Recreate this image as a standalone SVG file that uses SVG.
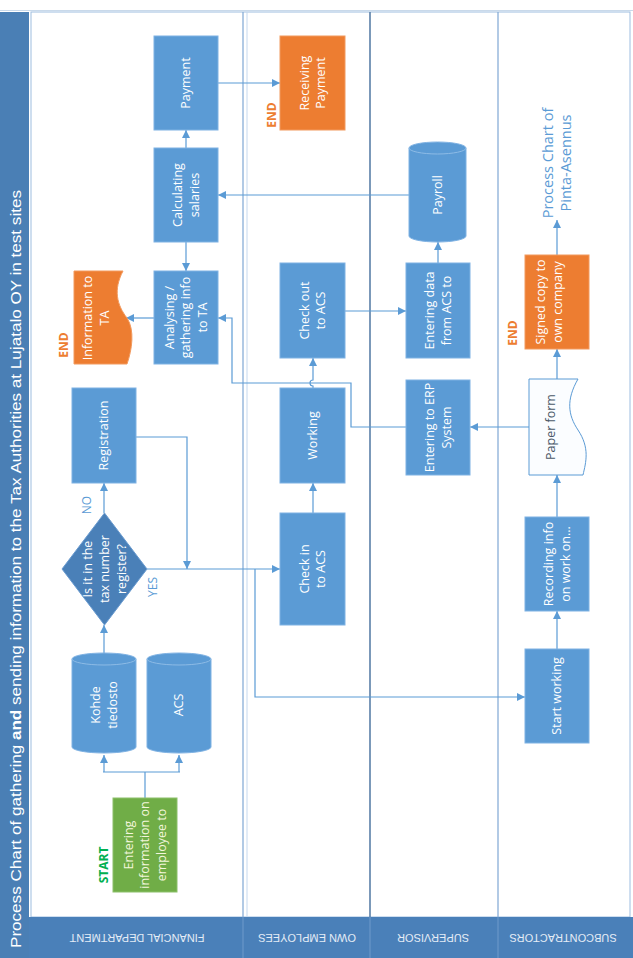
<svg xmlns="http://www.w3.org/2000/svg" width="633" height="958" viewBox="0 0 633 958">
<style>
.box{fill:#5b9bd5;stroke:#7fb2e3;stroke-width:1}
.dia{fill:#4a80b8;stroke:#6a9bd0;stroke-width:1}
.org{fill:#ed7d31;stroke:#f29a5e;stroke-width:1}
.grn{fill:#70ad47;stroke:#8cc06a;stroke-width:1}
.t{font-family:"Open Sans","Liberation Sans",sans-serif;font-size:12.5px;fill:#ffffff;text-anchor:middle}
.c{fill:none;stroke:#5b9bd5;stroke-width:1.2}
.lane{stroke:#7fa7d4;stroke-width:1.2}
.lbl{font-family:"Liberation Sans",sans-serif;font-size:11px;fill:#e4ecf6;text-anchor:middle}
.mark{font-family:"Open Sans","Liberation Sans",sans-serif;font-weight:bold;font-size:12px;text-anchor:middle}
.blue{font-family:"Open Sans","Liberation Sans",sans-serif;font-size:12px;fill:#5b9bd5;text-anchor:middle}
</style>
<defs>
<marker id="ah" markerUnits="userSpaceOnUse" markerWidth="9" markerHeight="8" refX="8" refY="4" orient="auto">
<path d="M0,0 L8,4 L0,8 Z" fill="#5b9bd5"/>
</marker>
</defs>
<rect x="0" y="0" width="633" height="958" fill="#ffffff"/>
<line x1="0" y1="10.5" x2="633" y2="10.5" stroke="#c9d9ea" stroke-width="1"/>
<!-- title strip -->
<rect x="0" y="12" width="29" height="946" fill="#4a7fb5"/>
<g transform="translate(21,948) rotate(-90)">
<text font-family="Liberation Sans, sans-serif" font-size="15" fill="#ffffff" textLength="758" lengthAdjust="spacingAndGlyphs">Process Chart of gathering <tspan font-weight="bold">and</tspan> sending information to the Tax Authorities at Lujatalo OY in test sites</text>
</g>
<!-- lanes -->
<g id="lanes">
<rect x="31" y="12" width="599" height="905" fill="#ffffff" stroke="#9dbde0" stroke-width="1"/>
<line class="lane" x1="243" y1="12" x2="243" y2="958"/>
<line x1="247" y1="12" x2="247" y2="917" stroke="#c5d8ee" stroke-width="1"/>
<line x1="370" y1="12" x2="370" y2="958" stroke="#5a7fa8" stroke-width="1.6"/>
<line class="lane" x1="498" y1="12" x2="498" y2="958"/>
<rect x="29" y="917" width="604" height="41" fill="#4a80b9"/>
<line x1="243" y1="917" x2="243" y2="958" stroke="#6f9acb" stroke-width="1"/>
<line x1="370" y1="917" x2="370" y2="958" stroke="#6f9acb" stroke-width="1"/>
<line x1="498" y1="917" x2="498" y2="958" stroke="#6f9acb" stroke-width="1"/>
<g transform="translate(137,938) rotate(180)"><text class="lbl" x="0" y="4">FINANCIAL DEPARTMENT</text></g>
<g transform="translate(307,938) rotate(180)"><text class="lbl" x="0" y="4">OWN EMPLOYEES</text></g>
<g transform="translate(433,938) rotate(180)"><text class="lbl" x="0" y="4">SUPERVISOR</text></g>
<g transform="translate(563,938) rotate(180)"><text class="lbl" x="0" y="4">SUBCONTRACTORS</text></g>
</g>
<!-- connectors -->
<g id="connectors">
<path class="c" d="M145,798 V772"/>
<path class="c" d="M103,772 H180"/>
<path class="c" d="M104,772 V755" marker-end="url(#ah)"/>
<path class="c" d="M179,772 V755" marker-end="url(#ah)"/>
<path class="c" d="M104,653 V625" marker-end="url(#ah)"/>
<path class="c" d="M104,513 V483" marker-end="url(#ah)"/>
<path class="c" d="M136,437 H187 V569" marker-end="url(#ah)"/>
<path class="c" d="M147,569 H280" marker-end="url(#ah)"/>
<path class="c" d="M255,569 V697 H525" marker-end="url(#ah)"/>
<path class="c" d="M313,513 V483" marker-end="url(#ah)"/>
<path class="c" d="M313,388 V386 A3,3 0 0 1 313,380 V358" marker-end="url(#ah)"/>
<path class="c" d="M345,311 H406" marker-end="url(#ah)"/>
<path class="c" d="M438,263 V242" marker-end="url(#ah)"/>
<path class="c" d="M409,195 H218" marker-end="url(#ah)"/>
<path class="c" d="M186,242 V271" marker-end="url(#ah)"/>
<path class="c" d="M186,148 V130" marker-end="url(#ah)"/>
<path class="c" d="M218,83 H280" marker-end="url(#ah)"/>
<path class="c" d="M154,318 H126" marker-end="url(#ah)"/>
<path class="c" d="M406,427 H351 V383 H232 V318 H218" marker-end="url(#ah)"/>
<path class="c" d="M529,427 H470" marker-end="url(#ah)"/>
<path class="c" d="M557,649 V611" marker-end="url(#ah)"/>
<path class="c" d="M557,517 V475" marker-end="url(#ah)"/>
<path class="c" d="M557,379 V349" marker-end="url(#ah)"/>
<path class="c" d="M557,255 V220" marker-end="url(#ah)"/>
</g>
<!-- nodes -->
<g id="start">
<rect class="grn" x="113" y="798" width="64" height="94"/>
<g transform="translate(145,845) rotate(-90)"><text class="t" style="fill:#f3f6dc"><tspan x="0" y="-12.5">Entering</tspan><tspan x="0" y="4.4">information on</tspan><tspan x="0" y="21.3">employee to</tspan></text></g>
<g transform="translate(103,865) rotate(-90)"><text class="mark" fill="#00b050" x="0" y="4.5">START</text></g>
</g>
<g id="kohde">
<path class="box" d="M72,659 A32,6 0 0 1 136,659 V747 A32,6 0 0 1 72,747 Z"/>
<path d="M72,659 A32,6 0 0 0 136,659" fill="none" stroke="#8dbbe6" stroke-width="1"/>
<g transform="translate(104,705) rotate(-90)"><text class="t"><tspan x="0" y="-4">Kohde</tspan><tspan x="0" y="12.9">tiedosto</tspan></text></g>
</g>
<g id="acs">
<path class="box" d="M147,659 A32,6 0 0 1 211,659 V747 A32,6 0 0 1 147,747 Z"/>
<path d="M147,659 A32,6 0 0 0 211,659" fill="none" stroke="#8dbbe6" stroke-width="1"/>
<g transform="translate(179,705) rotate(-90)"><text class="t" x="0" y="4.4">ACS</text></g>
</g>
<g id="decision">
<path class="dia" d="M104.5,513 L147,569 L104.5,625 L62,569 Z"/>
<g transform="translate(104.5,569) rotate(-90)"><text class="t"><tspan x="0" y="-12.5">Is it in the</tspan><tspan x="0" y="4.4">tax number</tspan><tspan x="0" y="21.3">register?</tspan></text></g>
<g transform="translate(87,505) rotate(-90)"><text class="blue" x="0" y="4">NO</text></g>
<g transform="translate(153,587) rotate(-90)"><text class="blue" x="0" y="4">YES</text></g>
</g>
<g id="registration">
<rect class="box" x="72" y="388" width="64" height="95"/>
<g transform="translate(104,435.5) rotate(-90)"><text class="t" x="0" y="4.4">Registration</text></g>
</g>
<g id="analysing">
<rect class="box" x="154" y="271" width="64" height="93"/>
<g transform="translate(186,317.5) rotate(-90)"><text class="t"><tspan x="0" y="-12.5">Analysing /</tspan><tspan x="0" y="4.4">gathering info</tspan><tspan x="0" y="21.3">to TA</tspan></text></g>
</g>
<g id="info-ta">
<path class="org" d="M74,271 H123 C113,290 117,305 127,318 C135,330 132,350 127,364 H74 Z"/>
<g transform="translate(96,318) rotate(-90)"><text class="t"><tspan x="0" y="-4">Information to</tspan><tspan x="0" y="12.9">TA</tspan></text></g>
<g transform="translate(63,345) rotate(-90)"><text class="mark" fill="#ed7d31" x="0" y="4.5">END</text></g>
</g>
<g id="calculating">
<rect class="box" x="154" y="148" width="64" height="94"/>
<g transform="translate(186,195) rotate(-90)"><text class="t"><tspan x="0" y="-4">Calculating</tspan><tspan x="0" y="12.9">salaries</tspan></text></g>
</g>
<g id="payment">
<rect class="box" x="154" y="36" width="64" height="94"/>
<g transform="translate(186,83) rotate(-90)"><text class="t" x="0" y="4.4">Payment</text></g>
</g>
<g id="receiving">
<rect class="org" x="280" y="36" width="65" height="94"/>
<g transform="translate(312.5,83) rotate(-90)"><text class="t"><tspan x="0" y="-4">Receiving</tspan><tspan x="0" y="12.9">Payment</tspan></text></g>
<g transform="translate(271,115) rotate(-90)"><text class="mark" fill="#ed7d31" x="0" y="4.5">END</text></g>
</g>
<g id="checkout">
<rect class="box" x="280" y="263" width="65" height="95"/>
<g transform="translate(312.5,310.5) rotate(-90)"><text class="t"><tspan x="0" y="-4">Check out</tspan><tspan x="0" y="12.9">to ACS</tspan></text></g>
</g>
<g id="working">
<rect class="box" x="280" y="388" width="65" height="95"/>
<g transform="translate(312.5,435.5) rotate(-90)"><text class="t" x="0" y="4.4">Working</text></g>
</g>
<g id="checkin">
<rect class="box" x="280" y="513" width="65" height="112"/>
<g transform="translate(312.5,569) rotate(-90)"><text class="t"><tspan x="0" y="-4">Check in</tspan><tspan x="0" y="12.9">to ACS</tspan></text></g>
</g>
<g id="payroll">
<path class="box" d="M409,148 A28.5,6 0 0 1 466,148 V236 A28.5,6 0 0 1 409,236 Z"/>
<path d="M409,148 A28.5,6 0 0 0 466,148" fill="none" stroke="#8dbbe6" stroke-width="1"/>
<g transform="translate(437.5,195) rotate(-90)"><text class="t" x="0" y="4.4">Payroll</text></g>
</g>
<g id="entering-data">
<rect class="box" x="406" y="263" width="64" height="95"/>
<g transform="translate(438,310.5) rotate(-90)"><text class="t"><tspan x="0" y="-4">Entering data</tspan><tspan x="0" y="12.9">from ACS to</tspan></text></g>
</g>
<g id="erp">
<rect class="box" x="406" y="380" width="64" height="95"/>
<g transform="translate(438,427.5) rotate(-90)"><text class="t"><tspan x="0" y="-4">Entering to ERP</tspan><tspan x="0" y="12.9">System</tspan></text></g>
</g>
<g id="paper-form">
<path d="M529,379 H578 C566,400 568,415 578,430 C590,448 586,462 583,475 H529 Z" fill="#fbfdff" stroke="#5b9bd5" stroke-width="1"/>
<g transform="translate(551,427) rotate(-90)"><text class="t" style="fill:#4a5868" x="0" y="4.4">Paper form</text></g>
</g>
<g id="signed-copy">
<rect class="org" x="525" y="255" width="64" height="94"/>
<g transform="translate(549,302) rotate(-90)"><text class="t"><tspan x="0" y="-4">Signed copy to</tspan><tspan x="0" y="12.9">own company</tspan></text></g>
<g transform="translate(512,333) rotate(-90)"><text class="mark" fill="#ed7d31" x="0" y="4.5">END</text></g>
</g>
<g id="pinta">
<g transform="translate(557,163) rotate(-90)"><text class="blue" style="font-size:14.5px"><tspan x="0" y="-4">Process Chart of</tspan><tspan x="0" y="14">Pinta-Asennus</tspan></text></g>
</g>
<g id="recording">
<rect class="box" x="525" y="517" width="64" height="94"/>
<g transform="translate(557,564) rotate(-90)"><text class="t"><tspan x="0" y="-4">Recording info</tspan><tspan x="0" y="12.9">on work on...</tspan></text></g>
</g>
<g id="start-working">
<rect class="box" x="525" y="649" width="64" height="94"/>
<g transform="translate(557,696) rotate(-90)"><text class="t" x="0" y="4.4">Start working</text></g>
</g>
</svg>
